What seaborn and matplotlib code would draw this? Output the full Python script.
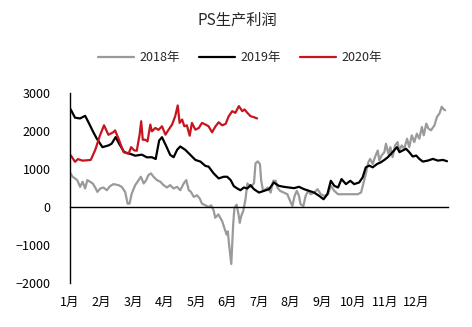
import matplotlib
matplotlib.use("Agg")
import matplotlib.pyplot as plt
import seaborn as sns
import pandas as pd

# ---- data (x = month position, 0 = start of Jan) ----
series_names = ["2018年", "2019年", "2020年"]
month_labels = ["1月", "2月", "3月", "4月", "5月", "6月", "7月", "8月", "9月", "10月", "11月", "12月"]

x2018 = [0.02, 0.08, 0.16, 0.23, 0.32, 0.40, 0.48, 0.55, 0.64, 0.72, 0.80, 0.87, 0.96, 1.06, 1.17, 1.27,
         1.38, 1.54, 1.64, 1.75, 1.83, 1.89, 1.96, 2.07, 2.18, 2.25, 2.34, 2.42, 2.49, 2.57, 2.65, 2.76,
         2.87, 2.97, 3.08, 3.18, 3.29, 3.40, 3.50, 3.61, 3.69, 3.77, 3.84, 3.93, 4.03, 4.12, 4.19, 4.30,
         4.40, 4.48, 4.56, 4.61, 4.71, 4.83, 4.90, 4.97, 5.01, 5.05, 5.12, 5.18, 5.22, 5.29, 5.35, 5.39,
         5.43, 5.50, 5.57, 5.63, 5.73, 5.84, 5.89, 5.96, 6.03, 6.07, 6.13, 6.21, 6.28, 6.37, 6.45, 6.53,
         6.58, 6.67, 6.79, 6.90, 7.01, 7.06, 7.13, 7.20, 7.27, 7.32, 7.41, 7.48, 7.56, 7.64, 7.75, 7.86,
         7.96, 8.07, 8.19, 8.28, 8.39, 8.51, 8.65, 8.81, 8.97, 9.13, 9.24, 9.32, 9.39, 9.47, 9.53, 9.61,
         9.68, 9.77, 9.82, 9.89, 9.98, 10.03, 10.11, 10.17, 10.24, 10.32, 10.40, 10.45, 10.53, 10.61,
         10.70, 10.77, 10.85, 10.93, 11.01, 11.09, 11.17, 11.23, 11.31, 11.38, 11.46, 11.57, 11.65,
         11.73, 11.80, 11.87, 11.91]
y2018 = [885, 796, 752, 708, 531, 664, 487, 708, 664, 620, 513, 398, 487, 513, 442, 549,
         602, 575, 531, 398, 88, 88, 354, 575, 708, 796, 620, 708, 841, 885, 796, 708,
         664, 575, 513, 575, 487, 531, 442, 620, 708, 442, 398, 265, 310, 221, 88, 44,
         0, 44, -88, -283, -195, -372, -549, -726, -640, -991, -1500, -460, -18, 60, -195, -416,
         -250, -106, 200, 620, 531, 620, 1150, 1200, 1130, 690, 425, 470, 513, 380, 690, 690,
         513, 425, 380, 336, 115, 27, 292, 425, 292, 71, 27, 292, 425, 336, 380, 469,
         336, 292, 336, 557, 425, 336, 336, 336, 336, 336, 380, 646, 867, 1177, 1266, 1133,
         1310, 1487, 1221, 1354, 1443, 1664, 1398, 1575, 1310, 1620, 1708, 1487, 1620, 1531,
         1797, 1575, 1885, 1708, 1929, 1797, 2106, 1885, 2195, 2062, 2018, 2150, 2372,
         2460, 2637, 2567, 2545]

x2019 = [0.02, 0.16, 0.32, 0.48, 0.58, 0.74, 0.85, 1.03, 1.22, 1.32, 1.45, 1.56, 1.72, 1.91, 2.07,
         2.28, 2.44, 2.60, 2.72, 2.83, 2.92, 3.06, 3.18, 3.29, 3.40, 3.50, 3.66, 3.82, 3.98, 4.14,
         4.30, 4.40, 4.56, 4.72, 4.88, 4.99, 5.10, 5.20, 5.31, 5.41, 5.52, 5.63, 5.73, 5.84, 6.00,
         6.16, 6.32, 6.47, 6.63, 6.79, 6.95, 7.11, 7.27, 7.43, 7.59, 7.75, 7.91, 8.05, 8.17, 8.28,
         8.39, 8.51, 8.62, 8.76, 8.90, 9.02, 9.18, 9.29, 9.39, 9.50, 9.61, 9.75, 9.87, 9.98, 10.09,
         10.24, 10.38, 10.46, 10.56, 10.67, 10.77, 10.88, 10.99, 11.09, 11.20, 11.36, 11.52, 11.68,
         11.84, 11.97]
y2019 = [2570, 2350, 2330, 2400, 2240, 1970, 1800, 1575, 1620, 1665, 1840, 1665, 1445, 1400, 1350,
         1378, 1307, 1310, 1263, 1749, 1837, 1593, 1372, 1310, 1504, 1593, 1504, 1372, 1239, 1195,
         1080, 1062, 885, 752, 796, 796, 708, 549, 487, 442, 513, 487, 575, 469, 380,
         425, 469, 646, 557, 531, 513, 496, 531, 469, 425, 380, 292, 204, 336, 690,
         557, 513, 735, 602, 690, 602, 646, 779, 1044, 1089, 1044, 1133, 1177, 1239, 1310,
         1443, 1575, 1443, 1487, 1531, 1443, 1328, 1354, 1266, 1195, 1221, 1266, 1221,
         1239, 1204]

x2020 = [0.03, 0.16, 0.25, 0.40, 0.55, 0.66, 0.80, 0.95, 1.08, 1.22, 1.38, 1.43, 1.54, 1.70, 1.86,
         1.94, 2.04, 2.12, 2.21, 2.26, 2.31, 2.39, 2.46, 2.55, 2.60, 2.71, 2.81, 2.92, 3.03, 3.13,
         3.24, 3.34, 3.42, 3.48, 3.56, 3.63, 3.71, 3.80, 3.87, 3.98, 4.09, 4.19, 4.30, 4.40, 4.51,
         4.62, 4.72, 4.83, 4.94, 5.04, 5.15, 5.25, 5.36, 5.47, 5.54, 5.63, 5.73, 5.84, 5.94]
y2020 = [1353, 1190, 1260, 1220, 1230, 1240, 1500, 1880, 2150, 1900, 1970, 2015, 1800, 1445, 1400,
         1575, 1490, 1480, 1903, 2257, 1770, 1770, 1726, 2168, 1991, 2080, 2030, 2124, 1903, 2035,
         2168, 2390, 2673, 2213, 2301, 2124, 2150, 1876, 2213, 2035, 2080, 2213, 2170, 2124, 1965,
         2124, 2230, 2150, 2186, 2390, 2522, 2478, 2655, 2522, 2567, 2478, 2390, 2363, 2330]

colors = {"2018年": "#9A9A9A", "2019年": "#000000", "2020年": "#C8141E"}

df = pd.concat([
    pd.DataFrame({"month": x2018, "value": y2018, "year": series_names[0]}),
    pd.DataFrame({"month": x2019, "value": y2019, "year": series_names[1]}),
    pd.DataFrame({"month": x2020, "value": y2020, "year": series_names[2]}),
], ignore_index=True)

sns.set_style("white")
plt.rcParams["font.family"] = ["Noto Sans CJK SC", "DejaVu Sans"]
plt.rcParams["axes.unicode_minus"] = True

fig = plt.figure(figsize=(4.72, 3.27), dpi=100)
ax = fig.add_axes([70 / 472, 44 / 327, 378 / 472, 190 / 327])

sns.lineplot(data=df, x="month", y="value", hue="year", palette=colors,
             hue_order=series_names, estimator=None, sort=False, linewidth=1.6,
             ax=ax, legend=True)

ax.set_xlim(0, 12)
ax.set_ylim(-2000, 3000)
ax.set_yticks([-2000, -1000, 0, 1000, 2000, 3000])
ax.set_xticks(range(0, 13))
ax.set_xticklabels(month_labels + [""])
ax.set_xlabel("")
ax.set_ylabel("")

for s in ["top", "right"]:
    ax.spines[s].set_visible(False)
ax.spines["left"].set_color("black")
ax.spines["left"].set_linewidth(1.0)
ax.spines["bottom"].set_color("black")
ax.spines["bottom"].set_linewidth(1.0)
ax.spines["bottom"].set_position(("data", 0))

ax.tick_params(axis="y", direction="in", length=4, width=1, pad=14, labelsize=9, colors="black")
ax.tick_params(axis="x", direction="in", length=4, width=1, pad=64, labelsize=9, colors="black")
ax.grid(False)

handles, labels = ax.get_legend_handles_labels()
ax.get_legend().remove()
fig.legend(handles, labels, loc="center", bbox_to_anchor=(240 / 472, 1 - 58 / 327), ncol=3,
           frameon=False, fontsize=9, handlelength=2.9, handletextpad=0.45, columnspacing=1.5)

fig.text(237 / 472, 1 - 20 / 327, "PS生产利润", ha="center", va="center", fontsize=11)

fig.savefig("out.png", dpi=100)
